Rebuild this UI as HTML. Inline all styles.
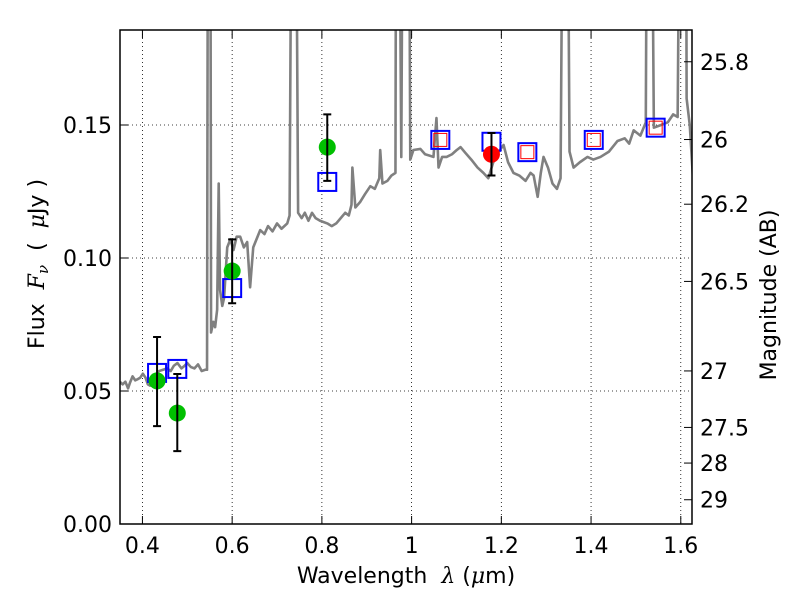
<!DOCTYPE html>
<html><head><meta charset="utf-8"><style>
body{margin:0;background:#fff;}
svg text{font-family:"DejaVu Sans","Liberation Sans",sans-serif;}
</style></head><body>
<svg id="chart" width="800" height="600" xmlns="http://www.w3.org/2000/svg">
<rect width="800" height="600" fill="#fff"/>
<defs><clipPath id="clip"><rect x="120" y="30" width="572" height="494"/></clipPath></defs>
<g id="grid"></g>
<g id="spec" clip-path="url(#clip)"></g>
<g id="marks" clip-path="url(#clip)"></g>
<rect x="120" y="30" width="572" height="494" fill="none" stroke="#000" stroke-width="1.5"/>
<g id="axes"></g>
<text x="406" y="583" font-size="22" text-anchor="middle" xml:space="preserve">Wavelength  <tspan font-style="italic" font-family="DejaVu Serif, serif">λ</tspan> (<tspan font-style="italic" font-family="DejaVu Serif, serif">μ</tspan>m)</text>
<text transform="translate(44,264) rotate(-90)" font-size="22" text-anchor="middle" xml:space="preserve">Flux  <tspan font-style="italic" font-family="DejaVu Serif, serif">F<tspan font-size="15" dy="4">ν</tspan></tspan><tspan dy="-4">  (  </tspan><tspan font-style="italic" font-family="DejaVu Serif, serif">μ</tspan>Jy )</text>
<text transform="translate(776,295) rotate(-90)" font-size="22" text-anchor="middle">Magnitude (AB)</text>
</svg>
<script>
const specWl=[0.350,0.356,0.362,0.368,0.372,0.378,0.384,0.390,0.395,0.401,0.407,0.412,0.417,0.424,0.430,0.437,0.446,0.455,0.463,0.470,0.478,0.487,0.494,0.500,0.508,0.516,0.524,0.532,0.540,0.544,0.5465,0.551,0.553,0.558,0.562,0.5665,0.570,0.573,0.578,0.582,0.589,0.596,0.603,0.610,0.618,0.626,0.6335,0.640,0.647,0.6625,0.672,0.680,0.690,0.700,0.710,0.7228,0.728,0.734,0.7406,0.747,0.755,0.762,0.770,0.778,0.786,0.796,0.812,0.822,0.832,0.842,0.852,0.860,0.866,0.868,0.8746,0.885,0.896,0.908,0.918,0.928,0.930,0.935,0.946,0.955,0.964,0.966,0.9705,0.977,0.9817,0.993,0.997,1.004,1.0196,1.030,1.040,1.0487,1.0554,1.060,1.068,1.078,1.090,1.100,1.109,1.120,1.133,1.147,1.160,1.171,1.182,1.192,1.205,1.215,1.227,1.240,1.254,1.265,1.272,1.281,1.288,1.294,1.304,1.314,1.324,1.332,1.339,1.346,1.352,1.361,1.375,1.392,1.405,1.421,1.440,1.459,1.475,1.485,1.495,1.510,1.522,1.526,1.533,1.540,1.556,1.571,1.583,1.593,1.600,1.611,1.613,1.620,1.629];
const specFlux=[0.0534,0.0525,0.0535,0.051,0.053,0.0555,0.054,0.0545,0.055,0.0565,0.055,0.0525,0.052,0.0545,0.056,0.0575,0.058,0.0585,0.0575,0.0595,0.0605,0.0585,0.0595,0.0605,0.059,0.0585,0.060,0.0575,0.058,0.058,0.30,0.30,0.072,0.076,0.074,0.0805,0.128,0.088,0.082,0.085,0.104,0.107,0.103,0.108,0.108,0.104,0.106,0.089,0.104,0.1105,0.109,0.112,0.110,0.113,0.111,0.113,0.116,0.30,0.30,0.117,0.115,0.117,0.114,0.117,0.115,0.114,0.113,0.112,0.113,0.115,0.117,0.116,0.120,0.134,0.119,0.121,0.124,0.127,0.126,0.13,0.1406,0.128,0.129,0.131,0.132,0.30,0.30,0.138,0.30,0.30,0.137,0.1406,0.141,0.139,0.1385,0.138,0.1526,0.134,0.138,0.138,0.139,0.1405,0.1417,0.1395,0.137,0.134,0.132,0.130,0.136,0.1395,0.1425,0.136,0.132,0.131,0.129,0.132,0.131,0.123,0.132,0.138,0.134,0.128,0.126,0.130,0.30,0.30,0.14,0.134,0.136,0.138,0.137,0.138,0.140,0.144,0.145,0.143,0.148,0.146,0.151,0.30,0.30,0.149,0.150,0.151,0.154,0.153,0.30,0.30,0.160,0.150,0.125];
const greenWl=[0.4326,0.4777,0.600,0.812];
const greenFlux=[0.0538,0.0417,0.0951,0.1417];
const greenErrHi=[0.0703,0.0564,0.107,0.154];
const greenErrLo=[0.0368,0.0274,0.083,0.129];
const redWl=[1.178];
const redFlux=[0.139];
const redErrHi=[0.147];
const redErrLo=[0.131];
const modelWl=[0.4326,0.4777,0.600,0.812,1.064,1.178,1.258,1.406,1.544];
const modelFlux=[0.0568,0.0583,0.0887,0.1286,0.1444,0.1437,0.1398,0.1444,0.149];
const synthWl=[1.064,1.258,1.406,1.544];
const synthFlux=[0.1444,0.1398,0.1444,0.149];
const xTicks=[0.4,0.6,0.8,1.0,1.2,1.4,1.6];
const xTickLabels=["0.4","0.6","0.8","1","1.2","1.4","1.6"];
const yTicks=[0,0.05,0.10,0.15];
const yTickLabels=["0.00","0.05","0.10","0.15"];
const magTicks=[25.8,26,26.2,26.5,27,27.5,28,29];
const magTickLabels=["25.8","26","26.2","26.5","27","27.5","28","29"];

const NS="http://www.w3.org/2000/svg";
const X=v=>120+(v-0.35)/1.275*572;
const Y=v=>524-v/0.18572*494;
const M=m=>Y(Math.pow(10,(23.9-m)/2.5));
function mk(tag,attrs,parent){const e=document.createElementNS(NS,tag);for(const k in attrs)e.setAttribute(k,attrs[k]);parent.appendChild(e);return e;}
const grid=document.getElementById('grid'),axes=document.getElementById('axes'),spec=document.getElementById('spec'),marks=document.getElementById('marks');
xTicks.forEach((t,i)=>{
  const g=mk('line',{x1:X(t),x2:X(t),y1:30,y2:524,stroke:'#000','stroke-width':0.8,'stroke-dasharray':'1,3'},grid);
  
  
  const tk=mk('line',{x1:X(t),x2:X(t),y1:524,y2:516,stroke:'#000','stroke-width':1},axes);
  
  
  const tt=mk('line',{x1:X(t),x2:X(t),y1:30,y2:38,stroke:'#000','stroke-width':1},axes);
  
  
  const l=mk('text',{x:X(t),y:553,'font-size':22,'text-anchor':'middle'},axes);l.textContent=xTickLabels[i];
  
  
});
yTicks.forEach((t,i)=>{
  const g=mk('line',{x1:120,x2:692,y1:Y(t),y2:Y(t),stroke:'#000','stroke-width':0.8,'stroke-dasharray':'1,3'},grid);
  
  
  const tk=mk('line',{x1:120,x2:128,y1:Y(t),y2:Y(t),stroke:'#000','stroke-width':1},axes);
  
  
  const l=mk('text',{x:112,y:Y(t)+8,'font-size':22,'text-anchor':'end'},axes);l.textContent=yTickLabels[i];
  
  
});
magTicks.forEach((m,i)=>{
  const tk=mk('line',{x1:684,x2:692,y1:M(m),y2:M(m),stroke:'#000','stroke-width':1},axes);
  
  
  const l=mk('text',{x:700,y:M(m)+8,'font-size':22},axes);l.textContent=magTickLabels[i];
  
  
});
const pl=mk('polyline',{points:specWl.map((w,i)=>X(w)+','+Y(specFlux[i])).join(' '),fill:'none',stroke:'#808080','stroke-width':2.6,'stroke-linejoin':'round'},spec);


modelWl.forEach((w,i)=>{
  const r=mk('rect',{x:X(w)-9,y:Y(modelFlux[i])-9,width:18,height:18,fill:'none',stroke:'#0000ff','stroke-width':2},marks);
  
  
});
synthWl.forEach((w,i)=>{
  const r=mk('rect',{x:X(w)-6.5,y:Y(synthFlux[i])-6.5,width:13,height:13,fill:'none',stroke:'#ff0000','stroke-width':1},marks);
  
  
});
function pts(wl,fl,hi,lo,col,name){
  wl.forEach((w,i)=>{
    const c=mk('circle',{cx:X(w),cy:Y(fl[i]),r:8.5,fill:col},marks);
    
    
    const e=mk('path',{d:`M${X(w)},${Y(hi[i])}V${Y(lo[i])}M${X(w)-4},${Y(hi[i])}h8M${X(w)-4},${Y(lo[i])}h8`,stroke:'#000','stroke-width':2,fill:'none'},marks);
    
    
  });
}
pts(greenWl,greenFlux,greenErrHi,greenErrLo,'#00bf00','observed-point');
pts(redWl,redFlux,redErrHi,redErrLo,'#ff0000','observed-point-red');
</script>
</body></html>
